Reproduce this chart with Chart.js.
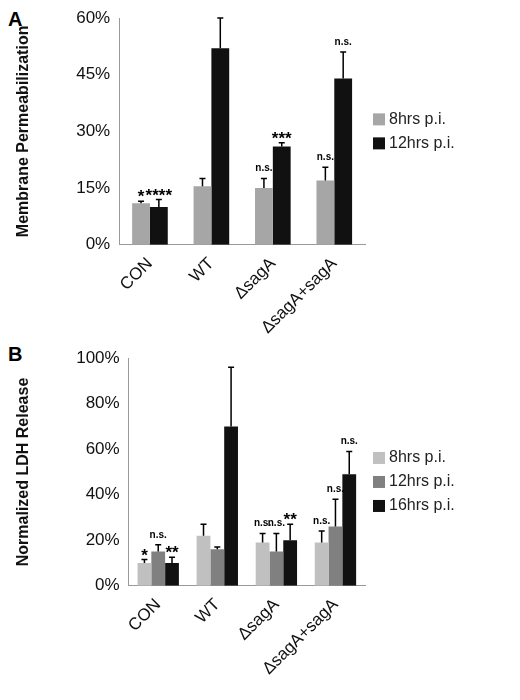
<!DOCTYPE html>
<html><head><meta charset="utf-8">
<script src="https://cdn.jsdelivr.net/npm/chart.js@4"></script>
<style>body{margin:0;background:#fff;font-family:"Liberation Sans",Arial,sans-serif}
canvas{position:absolute;left:0}
.p{position:absolute;left:8px;font:bold 20px "Liberation Sans",Arial;}
</style></head><body>
<div class="p" style="top:8px">A</div>
<div class="p" style="top:343px">B</div>
<canvas id="a" width="520" height="345" style="top:0;width:520px;height:345px"></canvas>
<canvas id="b" width="520" height="355" style="top:345px;width:520px;height:355px"></canvas>
<script>
const categories=["CON","WT","\u0394sagA","\u0394sagA+sagA"];
const aLabels=["8hrs p.i.","12hrs p.i."];
const a8=[11,15.5,15,17], a12=[10,52,26,44];
const a8err=[0.5,2,2.5,3.5], a12err=[2,8,1,7];
const a8note=["*","","n.s.","n.s."], a12note=["****","","***","n.s."];
const bLabels=["8hrs p.i.","12hrs p.i.","16hrs p.i."];
const b8=[10,22,19,19], b12=[15,16,15,26], b16=[10,70,20,49];
const b8err=[1.5,5,4,5], b12err=[3,1,8,12], b16err=[2.5,26,7,10];
const b8note=["*","","n.s.","n.s."], b12note=["n.s.","","n.s.","n.s."], b16note=["**","","**","n.s."];
const aTicks=[0,15,30,45,60], bTicks=[0,20,40,60,80,100];

const F='"Liberation Sans",Arial,sans-serif';
const extras={id:'extras',afterDatasetsDraw(ch){
  const c=ch.ctx, y=ch.scales.y;
  ch.data.datasets.forEach((ds,i)=>{
    const m=ch.getDatasetMeta(i);
    m.data.forEach((bar,j)=>{
      const top=y.getPixelForValue(ds.data[j]+ds.err[j]);
      c.save();c.strokeStyle='#000';c.lineWidth=1.5;
      c.beginPath();c.moveTo(bar.x,bar.y);c.lineTo(bar.x,top);
      c.moveTo(bar.x-3,top);c.lineTo(bar.x+3,top);c.stroke();
      const n=ds.note[j];
      if(n){c.fillStyle='#000';c.textAlign='center';
        const star=n.indexOf('*')>=0;
        c.font=star?'bold 17px '+F:'bold 10px '+F;
        c.textBaseline='bottom';
        c.fillText(n,bar.x,top-(star?-5:5));}
      c.restore();
    });
  });
  const n=ch.data.datasets.length, ca=ch.chartArea;
  const ymid=(ca.top+ca.bottom)/2+ch.options.legendShift;
  const gap=24;
  ch.data.datasets.forEach((ds,i)=>{
    const yy=ymid+(i-(n-1)/2)*gap;
    c.fillStyle=ds.backgroundColor;c.fillRect(ca.right+8,yy-6,12,12);
    c.fillStyle='#222';c.font='16px '+F;c.textAlign='left';c.textBaseline='middle';
    c.fillText(ds.label,ca.right+24,yy);
  });
}};
function mk(id,sets,ticks,max,title,pad,cp,shift){
  return new Chart(document.getElementById(id),{type:'bar',
    data:{labels:categories,datasets:sets},
    options:{responsive:false,animation:false,devicePixelRatio:1,legendShift:shift,
      layout:{padding:pad},
      plugins:{legend:{display:false},tooltip:{enabled:false}},
      datasets:{bar:{categoryPercentage:cp,barPercentage:1}},
      scales:{
        x:{grid:{display:false,drawTicks:true,tickLength:6},border:{color:'#999'},
          ticks:{color:'#111',font:{family:F,size:17},maxRotation:45,minRotation:45}},
        y:{min:0,max:max,afterBuildTicks:s=>{s.ticks=ticks.map(v=>({value:v}));},
          grid:{display:false,tickLength:6,drawTicks:true},border:{color:'#999'},
          ticks:{color:'#111',font:{family:F,size:17},callback:v=>v+'%'},
          title:{display:true,text:title,color:'#111',padding:{top:4,bottom:40},font:{family:F,size:16,weight:'bold'}}}}},
    plugins:[extras]});
}
mk('a',[
 {label:aLabels[0],data:a8,err:a8err,note:a8note,backgroundColor:'#a6a6a6'},
 {label:aLabels[1],data:a12,err:a12err,note:a12note,backgroundColor:'#111111'}],
 aTicks,60,'Membrane Permeabilization',{left:10,right:155,top:18,bottom:4},0.58,0);
mk('b',[
 {label:bLabels[0],data:b8,err:b8err,note:b8note,backgroundColor:'#c0c0c0'},
 {label:bLabels[1],data:b12,err:b12err,note:b12note,backgroundColor:'#808080'},
 {label:bLabels[2],data:b16,err:b16err,note:b16note,backgroundColor:'#111111'}],
 bTicks,100,'Normalized LDH Release',{left:10,right:155,top:0,bottom:18},0.7,10);
</script></body></html>
